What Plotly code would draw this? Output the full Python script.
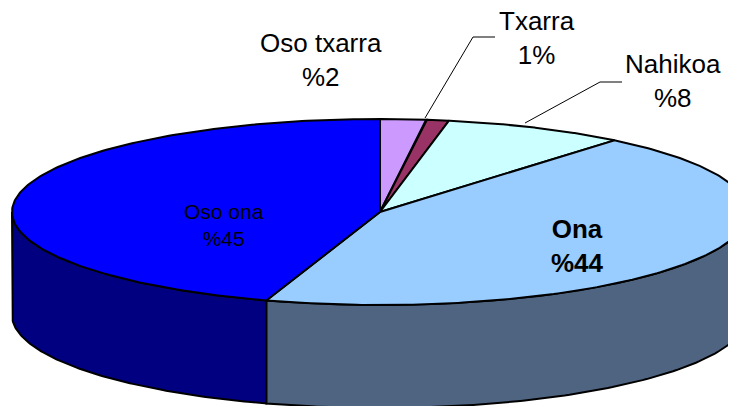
import numpy as np
import plotly.graph_objects as go

# ---- data ----
labels = ["Oso txarra", "Txarra", "Nahikoa", "Ona", "Oso ona"]
values = [2, 1, 8, 44, 45]
pct_text = ["%2", "1%", "%8", "%44", "%45"]
top_colors = ["#CC99FF", "#993366", "#CCFFFF", "#99CCFF", "#0000FF"]
side_colors = ["#7A5C99", "#5C1F3D", "#7A9999", "#4F6480", "#000080"]

# ---- geometry (layout) ----
W, H = 736, 406
OFF = 8  # default page body margin
CX, CY, RX, RY, DEPTH = 380, 212, 368, 93, 103


def ell(theta_deg, dy=0.0):
    t = np.radians(theta_deg)
    return CX + RX * np.sin(t), CY - RY * np.cos(t) + dy


total = float(sum(values))
bounds = np.concatenate([[0], np.cumsum(values)]) / total * 360.0

fig = go.Figure()

# outer walls (front half only)
for i in range(len(values)):
    a0, a1 = max(bounds[i], 90.0), min(bounds[i + 1], 270.0)
    if a0 >= a1:
        continue
    th = np.linspace(a0, a1, 120)
    xt, yt = ell(th)
    xb, yb = ell(th[::-1], DEPTH)
    xs = np.concatenate([xt, xb, [xt[0]]])
    ys = np.concatenate([yt, yb, [yt[0]]])
    fig.add_trace(go.Scatter(x=xs, y=ys, mode="lines", fill="toself",
                             fillcolor=side_colors[i],
                             line=dict(color="black", width=2),
                             hoverinfo="skip", showlegend=False))

# top faces
for i in range(len(values)):
    th = np.linspace(bounds[i], bounds[i + 1], 200)
    xt, yt = ell(th)
    xs = np.concatenate([[CX], xt, [CX]])
    ys = np.concatenate([[CY], yt, [CY]])
    fig.add_trace(go.Scatter(x=xs, y=ys, mode="lines", fill="toself",
                             fillcolor=top_colors[i],
                             line=dict(color="black", width=2),
                             name=labels[i], hoverinfo="name",
                             showlegend=False))

# labels (layout positions)
label_pos = {
    "Oso txarra": (321, 60, 26, False),
    "Txarra": (537, 38, 26, False),
    "Nahikoa": (673, 81, 26, False),
    "Ona": (577, 246, 26, True),
    "Oso ona": (224, 225, 21, False),
}
for lab, pct in zip(labels, pct_text):
    x, y, fs, bold = label_pos[lab]
    txt = f"{lab}<br>{pct}"
    if bold:
        txt = f"<b>{lab}</b><br><b>{pct}</b>"
    fig.add_annotation(x=x, y=y, text=txt, showarrow=False,
                       xanchor="center", yanchor="middle", borderpad=0,
                       font=dict(family="Liberation Sans, Arial", size=fs,
                                 color="black"))

# leader lines
leaders = [
    [(425, 118), (473, 37), (495, 37)],
    [(525, 123), (600, 82), (622, 82)],
]
for pts in leaders:
    path = "M " + " L ".join(f"{px},{py}" for px, py in pts)
    fig.add_shape(type="path", path=path, xref="x", yref="y",
                  line=dict(color="black", width=1))

fig.update_xaxes(range=[OFF, W], visible=False, fixedrange=True)
fig.update_yaxes(range=[H, OFF], visible=False, fixedrange=True)
fig.update_layout(width=W - OFF, height=H - OFF,
                  margin=dict(l=0, r=0, t=0, b=0),
                  paper_bgcolor="white", plot_bgcolor="white")

fig.write_html("out.html")
